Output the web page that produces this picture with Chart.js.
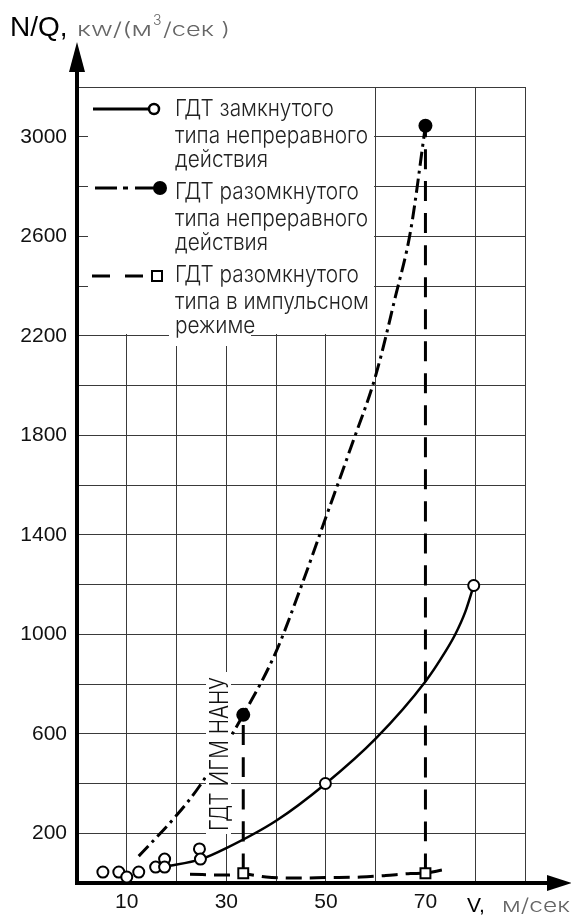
<!DOCTYPE html>
<html>
<head>
<meta charset="utf-8">
<script src="https://cdn.jsdelivr.net/npm/chart.js@4.4.1/dist/chart.umd.min.js"></script>
<style>
  html, body { margin: 0; padding: 0; background: #fff; }
  #wrap { width: 571px; height: 920px; }
</style>
</head>
<body>
<div id="wrap"><canvas id="chart" width="571" height="920"></canvas></div>
<script>
// ==========================================
// 1. ДАННЫЕ
// ==========================================
const xTickLabels = [10, 30, 50, 70];
const yTickLabels = [200, 600, 1000, 1400, 1800, 2200, 2600, 3000];

// ГДТ замкнутого типа - точки и кривая
const closedV = [5.2, 8.4, 10, 12.4, 15.8, 17.6, 17.6, 24.6, 24.8, 49.9, 79.7];
const closedN = [44, 44, 24, 44, 64, 96, 64, 137, 96, 400, 1196];
const closedLineV = [17.6, 25, 30, 40, 50, 60, 70, 74, 76, 78, 79.7];
const closedLineN = [66, 96, 140, 250, 400, 580, 810, 930, 1000, 1090, 1196];

// ГДТ разомкнутого типа непрерывного действия
const openV = [33.4, 70];
const openN = [676, 3044];
const openLineV = [12.4, 20, 24.7, 33.4, 40, 45, 50, 55, 60, 64, 67, 70];
const openLineN = [108, 272, 392, 676, 930, 1190, 1470, 1750, 2040, 2360, 2620, 3044];

// ГДТ разомкнутого типа в импульсном режиме
const pulseV = [33.4, 70];
const pulseN = [39, 39];
const pulseLineV = [22.7, 30, 33.4, 38, 45, 50, 57, 62, 67, 70, 73.3];
const pulseLineN = [35, 32, 36, 24, 20, 22, 24, 30, 38, 40, 52];

const legendText = [
    ['ГДТ замкнутого', 'типа непреравного', 'действия'],
    ['ГДТ разомкнутого', 'типа непреравного', 'действия'],
    ['ГДТ разомкнутого', 'типа в импульсном', 'режиме']
];
const sideNote = 'ГДТ ИГМ НАНУ';

const pts = (xs, ys) => xs.map((v, i) => ({ x: v, y: ys[i] }));

// ==========================================
// 2. ОФОРМЛЕНИЕ (легенда, подписи, стрелки)
// ==========================================
const THIN_FONT = 'Inter, "DejaVu Sans", sans-serif';

function stretchText(ctx, text, x, y, k) {
    ctx.save();
    ctx.translate(x, y);
    ctx.scale(k, 1);
    ctx.fillText(text, 0, 0);
    ctx.restore();
}

function fitText(ctx, text, x, y, targetW) {
    stretchText(ctx, text, x, y, targetW / ctx.measureText(text).width);
}

const decor = {
    id: 'decor',
    afterDatasetsDraw(chart) {
        const { ctx, chartArea: a, scales: { x, y } } = chart;
        ctx.save();
        ctx.fillStyle = '#fff';
        // фон легенды поверх сетки
        const lx = a.left + 11, lr = Math.floor(x.getPixelForValue(60)) - 1;
        const lt = Math.ceil(a.top) + 1, lb = Math.floor(y.getPixelForValue(2200)) - 1;
        ctx.fillRect(lx, lt, lr - lx, lb - lt);
        ctx.fillRect(169, lb - 16, 82, 28);
        // фон вертикальной надписи
        ctx.fillRect(206, 672, 25, 162);

        // образцы линий
        ctx.strokeStyle = '#000';
        ctx.lineWidth = 3;
        ctx.setLineDash([]);
        ctx.beginPath(); ctx.moveTo(93, 109); ctx.lineTo(149, 109); ctx.stroke();
        ctx.lineWidth = 2.5;
        ctx.beginPath(); ctx.arc(154, 109, 5, 0, Math.PI * 2);
        ctx.fillStyle = '#fff'; ctx.fill(); ctx.stroke();

        ctx.lineWidth = 3;
        ctx.setLineDash([22, 6, 5, 7]);
        ctx.beginPath(); ctx.moveTo(95, 188); ctx.lineTo(156, 188); ctx.stroke();
        ctx.setLineDash([]);
        ctx.beginPath(); ctx.arc(160, 188, 7, 0, Math.PI * 2);
        ctx.fillStyle = '#000'; ctx.fill();

        ctx.setLineDash([18, 15]);
        ctx.beginPath(); ctx.moveTo(92, 276); ctx.lineTo(152, 276); ctx.stroke();
        ctx.setLineDash([]);
        ctx.lineWidth = 2;
        ctx.fillStyle = '#fff';
        ctx.fillRect(152, 271, 10, 10);
        ctx.strokeRect(152, 271, 10, 10);

        // текст легенды
        ctx.fillStyle = '#222';
        ctx.font = '300 23px ' + THIN_FONT;
        ctx.textBaseline = 'alphabetic';
        const k = 193 / ctx.measureText(legendText[0][1]).width;
        const tops = [116, 199, 282];
        legendText.forEach((block, b) => {
            block.forEach((line, i) => stretchText(ctx, line, 175, tops[b] + [0, 27, 51][i], k));
        });

        // вертикальная надпись
        ctx.save();
        ctx.translate(219, 754);
        ctx.rotate(-Math.PI / 2);
        ctx.font = '300 25px ' + THIN_FONT;
        ctx.textBaseline = 'middle';
        ctx.fillStyle = '#111';
        const w = ctx.measureText(sideNote).width;
        ctx.scale(154 / w, 1);
        ctx.fillText(sideNote, -w / 2, 1);
        ctx.restore();
        ctx.restore();
    },
    afterDraw(chart) {
        const { ctx, chartArea: a } = chart;
        ctx.save();
        ctx.fillStyle = '#000';
        ctx.strokeStyle = '#000';
        ctx.lineWidth = 4;
        // стрелка оси Y
        ctx.beginPath(); ctx.moveTo(a.left, a.top); ctx.lineTo(a.left, 70); ctx.stroke();
        ctx.beginPath();
        ctx.moveTo(a.left, 42); ctx.lineTo(a.left - 8, 72); ctx.lineTo(a.left + 8, 72);
        ctx.closePath(); ctx.fill();
        // стрелка оси X
        ctx.beginPath(); ctx.moveTo(a.right, a.bottom); ctx.lineTo(549, a.bottom); ctx.stroke();
        ctx.beginPath();
        ctx.moveTo(572, a.bottom); ctx.lineTo(547, a.bottom - 8); ctx.lineTo(547, a.bottom + 8);
        ctx.closePath(); ctx.fill();

        // подписи осей
        ctx.textBaseline = 'alphabetic';
        ctx.font = '28px "Liberation Sans", Arial, sans-serif';
        ctx.fillText('N/Q,', 10, 36);
        ctx.fillStyle = '#666';
        ctx.font = '300 19px ' + THIN_FONT;
        fitText(ctx, 'кw/(м', 77, 36, 75);
        ctx.font = '300 14px ' + THIN_FONT;
        ctx.fillText('3', 153, 25);
        ctx.font = '300 19px ' + THIN_FONT;
        fitText(ctx, '/сек )', 163, 36, 67);

        ctx.fillStyle = '#000';
        ctx.font = '21px "Liberation Sans", Arial, sans-serif';
        ctx.fillText('V,', 467, 912);
        ctx.fillStyle = '#666';
        ctx.font = '300 19px ' + THIN_FONT;
        fitText(ctx, 'м/сек', 502, 912, 68);
        ctx.restore();
    }
};

// ==========================================
// 3. ГРАФИК
// ==========================================
const markerBase = { showLine: false, borderColor: '#000', pointBorderWidth: 2, order: 0 };
const lineBase = { showLine: true, pointRadius: 0, borderColor: '#000', order: 1, cubicInterpolationMode: 'monotone' };

new Chart(document.getElementById('chart'), {
    type: 'scatter',
    data: {
        datasets: [
            { ...markerBase, data: pts(closedV, closedN), pointRadius: 5.5, pointBackgroundColor: '#fff' },
            { ...markerBase, data: pts(openV, openN), pointRadius: 7, pointBorderWidth: 0, pointBackgroundColor: '#000' },
            { ...markerBase, data: pts(pulseV, pulseN), pointStyle: 'rect', pointRadius: 7, pointBackgroundColor: '#fff' },
            { ...lineBase, data: pts(closedLineV, closedLineN), borderWidth: 2.5 },
            { ...lineBase, data: pts(openLineV, openLineN), borderWidth: 3, borderDash: [14, 5, 3, 5] },
            { ...lineBase, data: pts(pulseLineV, pulseLineN), borderWidth: 3, borderDash: [16, 8] },
            { ...lineBase, data: pts([pulseV[0], openV[0]], [pulseN[0], openN[0]]), borderWidth: 3, borderDash: [20, 12] },
            { ...lineBase, data: pts([pulseV[1], openV[1]], [pulseN[1], openN[1]]), borderWidth: 3, borderDash: [20, 12] }
        ]
    },
    options: {
        responsive: false,
        animation: false,
        layout: { padding: { left: 0, top: 87, right: 46, bottom: 0 } },
        plugins: { legend: { display: false }, tooltip: { enabled: false } },
        scales: {
            x: {
                type: 'linear', min: 0, max: 90,
                afterFit: s => { s.height = 37; },
                border: { display: true, color: '#000', width: 4 },
                grid: {
                    drawTicks: false, lineWidth: 1,
                    color: c => (c.tick && c.tick.value === 70) ? 'rgba(0,0,0,0)' : '#3a3a3a'
                },
                ticks: {
                    stepSize: 10, padding: 7, color: '#111', maxRotation: 0, autoSkip: false,
                    font: { family: '"Liberation Sans", Arial, sans-serif', size: 21 },
                    callback: v => xTickLabels.includes(v) ? String(v) : ''
                }
            },
            y: {
                type: 'linear', min: 0, max: 3200,
                afterFit: s => { s.width = 77; },
                border: { display: true, color: '#000', width: 4 },
                grid: { drawTicks: false, lineWidth: 1, color: '#3a3a3a' },
                ticks: {
                    stepSize: 200, padding: 10, color: '#111', autoSkip: false,
                    font: { family: '"Liberation Sans", Arial, sans-serif', size: 21 },
                    callback: v => yTickLabels.includes(v) ? String(v) : ''
                }
            }
        }
    },
    plugins: [decor]
});
</script>
</body>
</html>
